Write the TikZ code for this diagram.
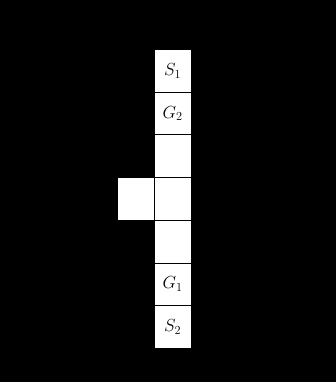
\documentclass[tikz,border=0pt]{standalone}
\usepackage{fix-cm}
\begin{document}
\begin{tikzpicture}[x=1pt,y=1pt,
  cellbox/.style={rectangle,draw=black,fill=white,line width=0.8pt,minimum width=36.7pt,minimum height=42.7pt,inner sep=0pt,font=\fontsize{17.5}{21}\selectfont}]
\fill[black] (0,0) rectangle (336,382);
\useasboundingbox (0,0) rectangle (336,382);
\def\cx{172.65}
\node[cellbox] (c1) at (\cx,382-70.8) {$S_1$};
\node[cellbox] (c2) at (\cx,382-113.5) {$G_2$};
\node[cellbox] (c3) at (\cx,382-156.2) {};
\node[cellbox] (c4) at (\cx,382-198.9) {};
\node[cellbox] (c5) at (\cx,382-241.6) {};
\node[cellbox] (c6) at (\cx,382-284.3) {$G_1$};
\node[cellbox] (c7) at (\cx,382-327.0) {$S_2$};
\node[cellbox] (l4) at (\cx-36.7,382-198.9) {};
\end{tikzpicture}
\end{document}
